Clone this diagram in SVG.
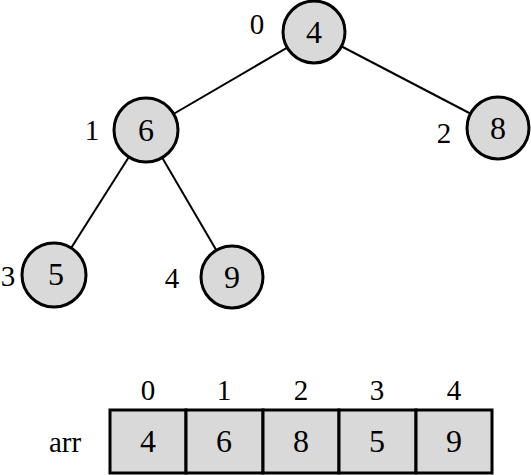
<svg xmlns="http://www.w3.org/2000/svg" width="531" height="475" viewBox="0 0 531 475">
<style>
.n{fill:#d9d9d9;stroke:#000;stroke-width:3}
.c{fill:#d9d9d9;stroke:#000;stroke-width:3}
text{font-family:"Liberation Serif",serif;font-size:32px;fill:#000;text-anchor:middle}
.l{font-size:29px}
.e{stroke:#000;stroke-width:2;fill:none}
</style>
<rect width="531" height="475" fill="#fff"/>
<g id="connectors">
<line class="e" x1="314" y1="32" x2="146" y2="130"/>
<line class="e" x1="314" y1="32" x2="498" y2="128"/>
<line class="e" x1="146" y1="130" x2="54" y2="275"/>
<line class="e" x1="146" y1="130" x2="232" y2="277"/>
</g>
<g id="node0"><circle class="n" cx="314" cy="32" r="31"/><text x="314" y="43">4</text><text class="l" x="257" y="34">0</text></g>
<g id="node1"><circle class="n" cx="146" cy="130" r="32"/><text x="146" y="141">6</text><text class="l" x="92" y="140">1</text></g>
<g id="node2"><circle class="n" cx="498" cy="128" r="31"/><text x="498" y="139">8</text><text class="l" x="444" y="143">2</text></g>
<g id="node3"><circle class="n" cx="54" cy="275" r="32"/><text x="56" y="285">5</text><text class="l" x="8" y="286">3</text></g>
<g id="node4"><circle class="n" cx="232" cy="277" r="31"/><text x="232" y="288">9</text><text class="l" x="172" y="288">4</text></g>
<g id="array">
<text class="l" x="65" y="452">arr</text>
<rect class="c" x="110" y="410" width="76" height="63"/>
<rect class="c" x="186" y="410" width="77" height="63"/>
<rect class="c" x="263" y="410" width="76" height="63"/>
<rect class="c" x="339" y="410" width="77" height="63"/>
<rect class="c" x="416" y="410" width="76" height="63"/>
<text x="148" y="452">4</text>
<text x="224" y="452">6</text>
<text x="301" y="452">8</text>
<text x="377" y="452">5</text>
<text x="454" y="452">9</text>
<text class="l" x="148" y="400">0</text>
<text class="l" x="224" y="400">1</text>
<text class="l" x="301" y="400">2</text>
<text class="l" x="377" y="400">3</text>
<text class="l" x="454" y="400">4</text>
</g>
</svg>
